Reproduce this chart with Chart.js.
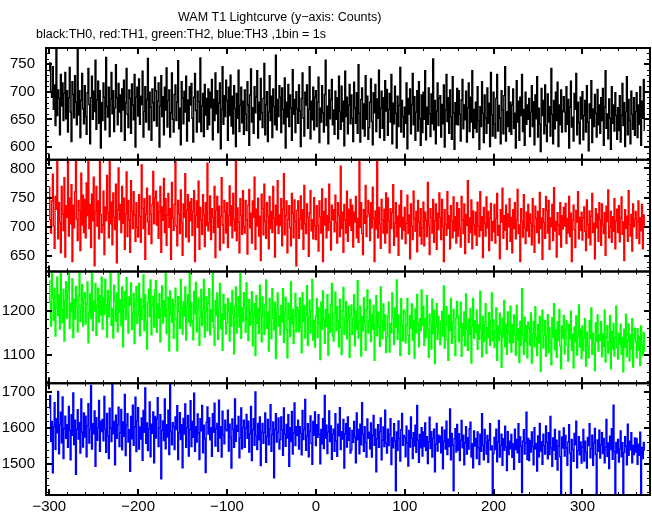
<!DOCTYPE html>
<html><head><meta charset="utf-8">
<script src="https://cdn.jsdelivr.net/npm/chart.js@4/dist/chart.umd.min.js"></script>
<style>html,body{margin:0;padding:0;background:#fff;overflow:hidden}#wrap{position:relative;width:652px;height:515px}</style>
</head><body><div id="wrap"><canvas id="c" width="652" height="515"></canvas></div>
<script>
const TITLE = 'WAM T1 Lightcurve (y\u2212axis: Counts)';
const SUBTITLE = 'black:TH0, red:TH1, green:TH2, blue:TH3 ,1bin = 1s';
const T_START = -300;   // time of first bin (s)
const BIN = 1;          // 1bin = 1s

const TH0 = [
738,752,701,690,745,668,712,639,781,657,703,688,622,731,674,716,648,697,735,651,
702,627,689,744,663,610,718,695,653,729,681,640,776,658,702,617,684,733,669,642,
711,655,623,698,742,677,606,689,728,650,701,664,757,632,685,719,643,702,598,680,
648,716,690,631,762,673,654,708,619,687,735,660,702,628,671,749,689,640,715,663,
694,628,705,667,721,612,680,742,659,635,703,688,625,714,676,649,731,600,690,708,
656,723,641,692,677,737,618,664,709,645,686,760,631,699,672,612,705,680,648,726,
702,638,683,716,600,674,729,655,691,622,708,667,743,636,684,703,618,662,734,650,
627,695,712,648,681,756,633,670,604,718,689,642,701,663,728,611,685,647,709,676,
715,652,609,690,733,666,627,701,682,645,761,628,674,697,619,713,658,688,632,705,
640,699,671,722,613,686,648,734,660,702,626,679,716,597,668,745,641,693,655,721,
684,612,708,657,730,638,692,624,711,669,601,697,652,739,628,675,708,644,683,623,
703,659,630,718,676,603,694,741,645,671,625,709,662,690,738,616,681,649,724,662,
635,688,751,622,677,700,610,663,729,648,692,617,705,673,640,766,631,686,655,711,
690,626,707,668,642,725,598,681,654,713,637,694,671,612,740,659,686,626,700,669,
643,712,665,601,688,734,652,620,699,676,712,634,668,745,615,683,649,708,631,690,
702,637,681,726,608,670,645,711,662,627,695,757,639,674,606,703,651,686,722,640,
667,623,701,650,689,615,728,664,632,710,646,683,602,737,655,690,624,676,713,642,
694,652,610,717,671,643,698,625,749,661,609,686,707,633,678,620,729,650,692,614,
635,681,723,646,604,698,662,713,628,687,652,739,617,670,701,634,689,612,720,665,
704,621,668,697,645,731,606,679,642,710,661,598,692,637,675,744,627,684,655,618,
672,643,716,597,688,659,705,624,677,733,640,691,612,663,702,629,718,651,603,694,
626,699,650,738,613,672,641,707,660,619,696,642,759,631,684,606,665,716,639,688,
693,618,677,642,712,600,667,731,646,689,625,703,655,614,727,662,596,680,641,706,
640,702,659,611,685,722,633,676,649,701,609,671,716,628,690,645,738,617,668,634,
681,627,709,648,596,673,637,718,661,608,694,652,625,707,643,679,601,735,658,620,
699,642,616,688,731,629,675,652,606,702,667,624,693,745,611,664,637,709,628,681,
623,676,705,634,661,598,720,645,683,612,690,657,731,628,668,603,699,641,676,650,
688,619,663,711,637,682,604,694,651,727,618,670,641,592,706,657,684,624,712,639,
610,696,645,673,620,742,659,606,684,633,699,648,717,601,676,640,703,627,665,691,
663,628,709,641,686,598,672,719,636,654,611,697,668,733,622,681,644,606,690,651,
700,613,657,684,627,711,645,593,678,652,720,608,669,637,695,661,618,704,640,676,
625,689,648,706,603,672,738,634,660,615,687,652,596,709,643,676,629,698,657,614,
671,630,693,609,657,715,639,680,601,664,727,622,686,648,606,701,659,632,689,621,
664,698,617,676,641,709,603,683,652,722,630];

const TH1 = [
768,712,689,744,790,701,663,752,730,812,679,741,707,655,769,722,693,784,648,736,
716,821,684,749,705,772,640,737,698,760,821,713,676,745,728,659,792,703,754,690,
747,681,775,719,822,697,738,664,756,710,785,633,726,769,701,744,679,818,721,690,
703,761,652,734,710,788,724,681,817,705,742,669,758,716,695,773,638,729,801,712,
738,690,769,706,749,661,722,794,683,745,712,656,779,727,697,760,720,675,741,699,
682,755,718,673,806,731,697,748,644,722,766,709,687,753,721,671,738,795,705,749,
761,703,742,680,725,769,656,734,711,783,690,748,668,720,757,699,731,644,776,715,
694,738,817,701,667,745,722,688,763,707,651,739,716,791,682,728,755,674,742,710,
748,685,726,762,640,719,744,699,778,661,733,712,687,755,721,666,741,702,809,693,
707,753,678,731,716,690,769,647,728,752,699,735,660,718,784,703,672,745,726,689,
741,664,719,770,702,736,681,757,713,693,812,676,732,708,655,748,719,687,762,700,
689,745,712,653,737,764,698,723,672,744,716,785,661,730,701,749,684,718,642,756,
731,686,773,709,680,741,718,662,752,697,726,690,769,715,648,737,703,779,688,720,
702,748,667,730,791,686,719,744,655,712,736,698,667,757,723,681,746,709,633,728,
744,680,713,753,696,729,661,771,705,688,739,716,649,724,762,693,712,679,750,701,
678,736,702,658,744,717,689,765,640,726,703,748,681,719,694,773,708,660,737,712,
729,691,754,707,672,741,719,683,804,697,725,656,738,712,689,761,675,730,702,747,
694,737,665,725,708,752,681,714,673,816,699,741,688,652,729,706,771,683,718,745,
722,676,741,698,768,714,640,727,696,815,681,733,705,663,747,712,689,730,672,758,
689,749,710,655,731,697,724,772,668,706,741,683,718,651,737,700,762,679,716,694,
733,671,706,754,688,720,645,739,701,678,761,714,692,726,657,745,708,684,731,670,
698,742,667,725,711,683,776,702,652,731,716,689,747,673,710,739,661,723,695,758,
716,678,747,701,640,729,704,685,760,697,719,662,736,710,681,751,693,717,672,741,
684,731,697,665,752,712,688,739,654,721,702,779,673,715,690,746,662,727,703,686,
725,668,742,701,683,760,694,717,647,733,705,684,751,698,726,659,714,740,676,709,
691,738,672,714,757,685,702,645,729,708,766,680,719,694,737,661,722,700,748,675,
716,655,729,697,741,679,712,764,688,703,640,731,709,682,755,698,671,725,693,738,
683,722,706,669,748,701,656,735,714,690,726,672,759,697,715,644,731,707,680,752,
728,689,745,661,715,700,738,676,767,693,709,648,724,703,686,741,665,719,696,733,
701,740,671,714,689,752,683,723,640,711,737,695,664,728,708,760,679,716,694,725,
677,715,734,692,659,746,704,681,727,669,718,757,690,706,645,731,698,722,675,741,
712,668,739,703,688,724,651,735,709,763,681,699,726,673,717,692,748,662,710,730,
690,736,674,715,751,687,708,642,729,697,718,675,762,704,684,721,658,739,700,713,
726,680,709,744,671,715,693,738,662,720,701];

const TH2 = [
1268,1219,1165,1292,1230,1178,1251,1142,1207,1276,1189,1236,1158,1291,1202,1173,1248,1131,1222,1266,
1183,1245,1290,1160,1217,1198,1272,1139,1226,1181,1255,1210,1152,1233,1292,1176,1207,1259,1165,1228,
1241,1170,1215,1265,1127,1196,1238,1183,1287,1155,1222,1199,1262,1144,1210,1251,1174,1234,1190,1276,
1158,1229,1192,1271,1213,1140,1246,1186,1224,1291,1167,1205,1138,1258,1221,1176,1240,1152,1287,1196,
1225,1166,1254,1118,1209,1243,1180,1275,1193,1149,1231,1212,1263,1157,1196,1239,1125,1218,1255,1171,
1190,1262,1143,1227,1180,1208,1281,1155,1236,1174,1113,1219,1249,1186,1270,1145,1211,1233,1163,1247,
1268,1151,1215,1183,1239,1129,1204,1256,1172,1222,1187,1286,1148,1201,1230,1109,1245,1192,1174,1226,
1137,1213,1251,1179,1109,1232,1198,1160,1271,1206,1147,1221,1188,1254,1133,1210,1236,1174,1290,1165,
1219,1176,1134,1244,1193,1264,1152,1207,1229,1121,1185,1248,1166,1202,1271,1140,1198,1231,1154,1216,
1250,1145,1203,1176,1291,1162,1121,1223,1189,1240,1135,1208,1262,1159,1192,1110,1236,1181,1214,1147,
1172,1228,1199,1131,1217,1165,1246,1193,1102,1210,1254,1149,1188,1232,1163,1284,1137,1206,1175,1241,
1207,1151,1263,1180,1132,1225,1167,1199,1243,1120,1186,1216,1098,1234,1171,1205,1148,1258,1193,1129,
1231,1188,1146,1214,1270,1160,1197,1108,1228,1175,1136,1250,1183,1156,1219,1091,1202,1240,1165,1187,
1145,1211,1174,1250,1128,1194,1230,1157,1093,1217,1182,1141,1265,1170,1203,1125,1189,1239,1152,1208,
1200,1152,1229,1163,1104,1241,1176,1212,1138,1190,1257,1121,1185,1224,1149,1199,1271,1133,1178,1117,
1188,1227,1139,1206,1172,1089,1219,1158,1245,1180,1126,1203,1164,1236,1099,1192,1151,1214,1262,1143,
1131,1195,1242,1154,1209,1177,1118,1226,1162,1100,1199,1253,1146,1185,1221,1136,1178,1210,1094,1189,
1213,1146,1181,1236,1120,1199,1157,1268,1138,1175,1210,1097,1186,1154,1229,1171,1110,1202,1247,1149,
1177,1225,1130,1191,1158,1212,1087,1168,1234,1143,1197,1162,1119,1254,1178,1136,1215,1155,1190,1105,
1140,1187,1219,1106,1171,1149,1240,1183,1123,1206,1162,1270,1135,1191,1152,1098,1227,1168,1131,1201,
1196,1127,1166,1228,1144,1101,1189,1160,1215,1133,1178,1092,1204,1149,1237,1170,1118,1182,1155,1247,
1166,1210,1121,1183,1139,1234,1157,1094,1192,1174,1113,1226,1148,1201,1080,1165,1216,1135,1187,1149,
1123,1176,1198,1142,1256,1115,1167,1209,1133,1087,1190,1155,1228,1126,1173,1203,1140,1098,1184,1221,
1188,1130,1162,1219,1096,1171,1143,1197,1120,1238,1158,1110,1181,1146,1205,1081,1164,1228,1137,1176,
1150,1201,1112,1168,1135,1244,1158,1095,1187,1129,1173,1216,1103,1161,1139,1196,1121,1178,1240,1132,
1179,1116,1153,1206,1087,1165,1132,1194,1148,1071,1183,1140,1223,1118,1169,1101,1197,1150,1127,1210,
1106,1168,1128,1190,1145,1099,1212,1134,1159,1082,1176,1121,1250,1143,1101,1185,1130,1166,1093,1174,
1160,1122,1195,1081,1147,1176,1118,1209,1139,1098,1168,1127,1187,1062,1153,1201,1115,1144,1178,1096,
1147,1191,1105,1162,1128,1077,1184,1140,1216,1111,1156,1094,1175,1132,1203,1119,1068,1165,1137,1189,
1102,1154,1178,1121,1085,1168,1136,1199,1110,1147,1070,1163,1129,1188,1099,1142,1213,1117,1158,1091,
1165,1109,1138,1182,1074,1151,1120,1093,1177,1136,1206,1101,1149,1125,1064,1172,1130,1190,1108,1145,
1133,1175,1095,1147,1119,1201,1083,1140,1166,1104,1128,1189,1068,1152,1113,1171,1097,1137,1210,1116,
1090,1148,1124,1169,1101,1139,1061,1158,1117,1192,1095,1131,1170,1086,1146,1113,1182,1072,1137,1160,
1128,1093,1159,1110,1142,1075,1165,1121,1098,1150,1108];

const TH3 = [
1655,1690,1562,1618,1475,1603,1671,1540,1626,1587,1702,1528,1610,1644,1559,1687,1515,1598,1633,1571,
1609,1546,1660,1593,1511,1637,1580,1698,1554,1622,1471,1596,1651,1569,1615,1530,1681,1588,1547,1642,
1575,1633,1520,1606,1668,1558,1597,1719,1541,1612,1584,1648,1493,1629,1566,1601,1677,1535,1619,1590,
1624,1564,1688,1597,1532,1641,1578,1515,1655,1600,1562,1723,1584,1618,1497,1636,1571,1609,1658,1548,
1586,1652,1539,1617,1577,1694,1523,1608,1640,1561,1595,1479,1632,1570,1664,1552,1603,1686,1534,1620,
1657,1541,1603,1569,1628,1510,1649,1588,1712,1557,1614,1537,1598,1673,1520,1611,1585,1645,1503,1632,
1572,1626,1685,1548,1601,1637,1458,1593,1620,1565,1681,1542,1609,1575,1650,1526,1724,1590,1553,1615,
1604,1540,1631,1596,1662,1512,1587,1643,1568,1609,1489,1627,1583,1667,1546,1601,1635,1522,1596,1676,
1548,1618,1574,1697,1535,1604,1561,1639,1587,1512,1626,1592,1663,1531,1608,1570,1476,1616,1659,1583,
1629,1567,1601,1521,1640,1588,1669,1550,1598,1613,1535,1678,1572,1604,1519,1647,1581,1556,1622,1595,
1592,1650,1536,1611,1574,1488,1625,1597,1546,1681,1563,1607,1591,1632,1517,1573,1656,1542,1601,1622,
1546,1599,1638,1571,1619,1533,1584,1660,1509,1595,1626,1552,1701,1578,1540,1613,1567,1631,1495,1589,
1613,1557,1587,1642,1504,1576,1624,1553,1598,1665,1535,1582,1617,1461,1596,1640,1561,1589,1628,1541,
1568,1631,1595,1524,1656,1583,1549,1610,1572,1637,1493,1601,1562,1646,1527,1587,1670,1551,1604,1579,
1622,1541,1604,1585,1525,1649,1568,1596,1680,1538,1577,1612,1520,1591,1634,1557,1499,1618,1580,1645,
1551,1609,1574,1637,1582,1500,1596,1556,1626,1543,1691,1571,1608,1529,1589,1648,1562,1606,1513,1583,
1597,1535,1640,1563,1521,1611,1578,1657,1540,1590,1569,1624,1488,1584,1612,1547,1631,1566,1600,1530,
1539,1593,1560,1618,1575,1503,1642,1567,1596,1528,1611,1553,1671,1582,1535,1604,1560,1519,1625,1571,
1588,1542,1614,1519,1580,1635,1552,1597,1478,1570,1609,1546,1590,1628,1511,1566,1603,1548,1650,1557,
1530,1597,1551,1582,1626,1498,1573,1545,1612,1564,1425,1589,1537,1620,1571,1508,1595,1641,1552,1579,
1574,1520,1605,1559,1494,1593,1547,1631,1571,1515,1587,1550,1608,1532,1663,1566,1504,1582,1545,1601,
1522,1589,1548,1614,1537,1576,1501,1562,1630,1543,1590,1519,1571,1597,1478,1555,1613,1536,1580,1560,
1577,1531,1602,1486,1563,1594,1541,1619,1526,1569,1548,1653,1511,1585,1552,1425,1570,1598,1533,1610,
1538,1584,1509,1566,1621,1545,1580,1497,1559,1604,1527,1573,1541,1598,1616,1519,1556,1489,1592,1550,
1571,1515,1589,1545,1498,1583,1535,1640,1552,1511,1596,1560,1527,1579,1504,1566,1612,1539,1550,1414,
1529,1574,1540,1597,1506,1561,1621,1519,1552,1583,1496,1570,1538,1605,1547,1481,1590,1526,1563,1542,
1582,1518,1556,1485,1597,1540,1568,1531,1612,1504,1575,1549,1420,1563,1595,1527,1558,1644,1512,1571,
1509,1565,1533,1589,1548,1497,1601,1541,1557,1480,1578,1520,1613,1536,1562,1499,1583,1551,1527,1606,
1560,1514,1587,1526,1632,1545,1493,1572,1538,1596,1513,1566,1483,1549,1591,1520,1417,1575,1544,1600,
1522,1579,1545,1496,1561,1609,1530,1414,1568,1540,1507,1585,1553,1619,1489,1538,1576,1525,1561,1502,
1547,1596,1508,1563,1532,1488,1574,1551,1612,1517,1543,1580,1496,1558,1599,1526,1415,1567,1535,1594,
1516,1553,1587,1529,1571,1503,1546,1624,1521,1558,1487,1577,1540,1598,1513,1664,1534,1418,1560,1530,
1568,1505,1541,1592,1520,1559,1414,1532,1576,1549,1497,1611,1524,1563,1539,1587,1503,1551,1526,1572,
1533,1571,1499,1555,1524,1588,1414,1546,1515,1560,1538];

const X_TICK_LABELS = [-300, -200, -100, 0, 100, 200, 300];
const Y_TICKS_TH0 = [600, 650, 700, 750];
const Y_TICKS_TH1 = [650, 700, 750, 800];
const Y_TICKS_TH2 = [1100, 1200];
const Y_TICKS_TH3 = [1500, 1600, 1700];

const SERIES = [TH0, TH1, TH2, TH3];
const COLORS = ['#000000', '#ff0000', '#00ff00', '#0000ff'];
const PANELS = [
  {id: 'y0', min: 577, max: 779, ticks: Y_TICKS_TH0, major: 50, minor: 10},
  {id: 'y1', min: 623, max: 815, ticks: Y_TICKS_TH1, major: 50, minor: 10},
  {id: 'y2', min: 1035, max: 1289, ticks: Y_TICKS_TH2, major: 100, minor: 20},
  {id: 'y3', min: 1413, max: 1725, ticks: Y_TICKS_TH3, major: 100, minor: 20}
];
const FONT = '"Liberation Sans", Arial, Helvetica, sans-serif';
const fmt = v => String(v).replace('-', '\u2212');

const datasets = SERIES.map((vals, k) => ({
  data: vals.map((v, i) => ({x: T_START + i * BIN, y: v})),
  yAxisID: PANELS[k].id,
  borderColor: COLORS[k],
  borderWidth: 1.4,
  pointRadius: 0,
  stepped: 'middle',
  fill: false
}));

const scales = {
  x: {
    type: 'linear', position: 'bottom', min: -303.7, max: 376,
    grid: {display: false, drawTicks: false}, border: {display: false},
    afterBuildTicks: s => { s.ticks = X_TICK_LABELS.map(v => ({value: v})); },
    afterFit: s => { s.height = 19; },
    ticks: {autoSkip: false, maxRotation: 0, padding: 3, color: '#000',
      font: {family: FONT, size: 15}, callback: v => fmt(v)}
  }
};
// higher weight is placed higher in the stack: first panel on top
PANELS.forEach((p, j) => {
  scales[p.id] = {
    type: 'linear', position: 'left', stack: 'panels', stackWeight: 1, weight: 4 - j,
    min: p.min, max: p.max,
    grid: {display: false, drawTicks: false}, border: {display: false},
    afterBuildTicks: s => { s.ticks = p.ticks.map(v => ({value: v})); },
    afterFit: s => { s.width = 46; },
    ticks: {autoSkip: false, padding: 11, color: '#000', font: {family: FONT, size: 15},
      callback: v => fmt(v)}
  };
});

const panelClip = {
  id: 'panelClip',
  beforeDatasetDraw(chart, args) {
    const ys = chart.scales[args.meta.yAxisID];
    const ca = chart.chartArea;
    chart.ctx.save();
    chart.ctx.beginPath();
    chart.ctx.rect(ca.left, ys.top, ca.right - ca.left, ys.bottom - ys.top);
    chart.ctx.clip();
  },
  afterDatasetDraw(chart) { chart.ctx.restore(); }
};

const frame = {
  id: 'frame',
  afterDraw(chart) {
    const ctx = chart.ctx, ca = chart.chartArea, xs = chart.scales.x;
    ctx.save();
    ctx.strokeStyle = '#000';
    PANELS.forEach(p => {
      const ys = chart.scales[p.id];
      const top = ys.top, bot = ys.bottom;
      const x0 = Math.ceil(xs.min / 20) * 20;
      for (let v = x0; v <= xs.max; v += 20) {
        const major = v % 100 === 0;
        const px = Math.round(xs.getPixelForValue(v)) + (major ? 0 : 0.5);
        const len = major ? 6 : 3;
        ctx.lineWidth = major ? 2 : 1;
        ctx.beginPath();
        ctx.moveTo(px, top); ctx.lineTo(px, top + len);
        ctx.moveTo(px, bot); ctx.lineTo(px, bot - len);
        ctx.stroke();
      }
      const y0 = Math.ceil(p.min / p.minor) * p.minor;
      for (let v = y0; v <= p.max; v += p.minor) {
        const major = v % p.major === 0;
        const py = Math.round(ys.getPixelForValue(v)) + (major ? 0 : 0.5);
        const len = major ? 6 : 3;
        ctx.lineWidth = major ? 2 : 1;
        ctx.beginPath();
        ctx.moveTo(ca.left, py); ctx.lineTo(ca.left + len, py);
        ctx.moveTo(ca.right, py); ctx.lineTo(ca.right - len, py);
        ctx.stroke();
      }
      ctx.lineWidth = 2;
      ctx.strokeRect(ca.left, top, ca.right - ca.left, bot - top);
    });
    ctx.fillStyle = '#000';
    ctx.font = '12.5px ' + FONT;
    ctx.textAlign = 'left';
    ctx.textBaseline = 'alphabetic';
    ctx.fillText(TITLE, 178, 21);
    ctx.fillText(SUBTITLE, 36, 38);
    ctx.restore();
  }
};

new Chart(document.getElementById('c'), {
  type: 'line',
  data: {datasets},
  options: {
    responsive: false, animation: false, devicePixelRatio: 1,
    layout: {padding: {top: 48, left: 0, right: 2, bottom: 0}},
    plugins: {legend: {display: false}, tooltip: {enabled: false}, title: {display: false}},
    scales
  },
  plugins: [panelClip, frame]
});
</script></body></html>
